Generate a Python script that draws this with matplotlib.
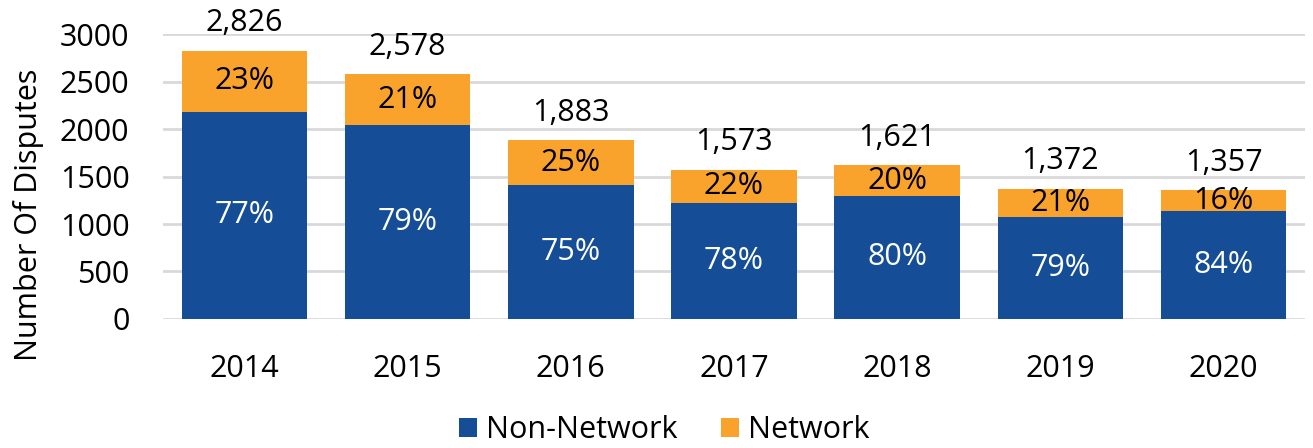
import matplotlib
matplotlib.use("Agg")
from matplotlib import pyplot as plt
import numpy as np

years = ["2014", "2015", "2016", "2017", "2018", "2019", "2020"]
totals = [2826, 2578, 1883, 1573, 1621, 1372, 1357]
non_network = [2180, 2040, 1410, 1220, 1295, 1070, 1135]
network = [t - n for t, n in zip(totals, non_network)]
non_network_pct = ["77%", "79%", "75%", "78%", "80%", "79%", "84%"]
network_pct = ["23%", "21%", "25%", "22%", "20%", "21%", "16%"]

blue = "#154E96"
orange = "#F9A32C"
fs = 22

plt.rcParams['font.family'] = ['Open Sans', 'DejaVu Sans']

fig = plt.figure(figsize=(13.13, 4.48), dpi=100)
ax = fig.add_axes([0.124, 0.288, 0.87, 0.636])

x = np.arange(len(years))
w = 0.77
b1 = ax.bar(x, non_network, w, color=blue, label="Non-Network", zorder=3)
b2 = ax.bar(x, network, w, bottom=non_network, color=orange, label="Network", zorder=3)

# percentages inside the segments, totals on top
for i in range(len(years)):
	ax.text(x[i], non_network[i] / 2, non_network_pct[i], ha="center", va="center",
		color="white", fontsize=fs, zorder=4)
	ax.text(x[i], non_network[i] + network[i] / 2, network_pct[i], ha="center", va="center",
		color="black", fontsize=fs, zorder=4)
	ax.annotate(f"{totals[i]:,}", (x[i], totals[i]), xytext=(0, 9), textcoords="offset points",
		ha="center", va="bottom", fontsize=fs, color="black")

ax.set_xlim(-0.5, len(years) - 0.5)
ax.set_ylim(0, 3000)
ax.set_yticks(range(0, 3001, 500))
ax.set_xticks(x)
ax.set_xticklabels(years)
ax.tick_params(axis="both", length=0, labelsize=fs, colors="black")
ax.tick_params(axis="x", pad=25)
ax.tick_params(axis="y", pad=24)
ax.grid(axis="y", color="#D9D9D9", linewidth=2, zorder=0)
for s in ax.spines.values():
	s.set_visible(False)
ax.set_ylabel("Number Of Disputes", fontsize=fs)
ax.yaxis.set_label_coords(-0.104, 0.365)

fig.legend(handles=[b1, b2], loc="center", bbox_to_anchor=(0.506, 0.04), ncol=2, frameon=False,
	fontsize=fs, handlelength=0.6, handleheight=0.6, handletextpad=0.3, columnspacing=1.4)

fig.savefig("out.png", dpi=100)
